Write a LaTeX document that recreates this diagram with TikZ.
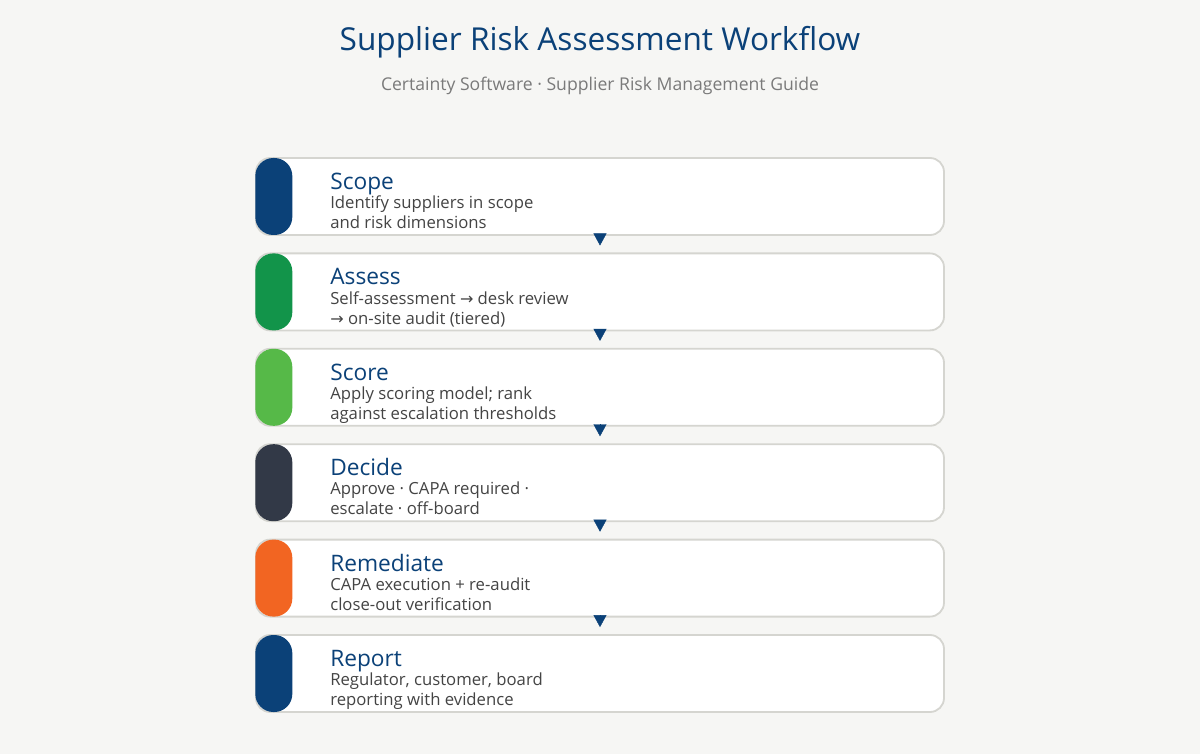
\documentclass[tikz,border=0pt]{standalone}
\usepackage{fontspec}
\setmainfont{Open Sans}
\newfontfamily\symfont{DejaVu Sans}
\usetikzlibrary{arrows.meta}

\definecolor{pagebg}{HTML}{F6F6F4}
\definecolor{navy}{HTML}{0B4178}
\definecolor{leafgreen}{HTML}{12944A}
\definecolor{limegreen}{HTML}{56B948}
\definecolor{slate}{HTML}{323947}
\definecolor{tangerine}{HTML}{F26522}
\definecolor{edgegray}{HTML}{D5D5D0}
\definecolor{bodytext}{HTML}{444444}
\definecolor{subgray}{HTML}{7A7A7A}

\newcommand{\rarr}{{\symfont\fontsize{16}{20}\selectfont →}}

\tikzset{
    stepbox/.style={draw=edgegray, line width=1.8pt, fill=white, rounded corners=14pt,
        minimum width=688pt, minimum height=77pt, inner sep=0pt},
    pill/.style={rounded corners=18pt, minimum width=37pt, minimum height=77pt,
        inner sep=0pt, anchor=west},
    steptitle/.style={anchor=base west, inner sep=0pt, text=navy,
        font=\fontsize{22.7}{26}\selectfont},
    stepdesc/.style={anchor=base west, inner sep=0pt, text=bodytext, align=left,
        font=\fontsize{16.7}{20}\selectfont}
}

\begin{document}
\begin{tikzpicture}[x=1pt, y=-1pt]
    \fill[pagebg] (0,0) rectangle (1200,754);
    \useasboundingbox (0,0) rectangle (1200,754);

    \node[anchor=base, inner sep=0pt, text=navy, font=\fontsize{31.6}{38}\selectfont] (title) at (600,50.5) {Supplier Risk Assessment Workflow};
    \node[anchor=base, inner sep=0pt, text=subgray, font=\fontsize{17.6}{21}\selectfont] (subtitle) at (600,90.5) {Certainty Software · Supplier Risk Management Guide};

    \begin{scope}[every node/.style={stepbox}]
        \node (scope) at (600,196.5) {};
        \node (assess) at (600,291.9) {};
        \node (score) at (600,387.3) {};
        \node (decide) at (600,482.7) {};
        \node (remediate) at (600,578.1) {};
        \node (report) at (600,673.5) {};
    \end{scope}

    \begin{scope}[every node/.style={pill}]
        \node[fill=navy] (scopepill) at (scope.west) {};
        \node[fill=leafgreen] (assesspill) at (assess.west) {};
        \node[fill=limegreen] (scorepill) at (score.west) {};
        \node[fill=slate] (decidepill) at (decide.west) {};
        \node[fill=tangerine] (remediatepill) at (remediate.west) {};
        \node[fill=navy] (reportpill) at (report.west) {};
    \end{scope}

    % titles and descriptions (desc is anchored on its last line)
    \foreach \s/\t/\d in {scope/Scope/{Identify suppliers in scope\\and risk dimensions},
            assess/Assess/{Self-assessment \rarr{} desk review\\\rarr{} on-site audit (tiered)},
            score/Score/{Apply scoring model; rank\\against escalation thresholds},
            decide/Decide/{Approve · CAPA required ·\\escalate · off-board},
            remediate/Remediate/{CAPA execution + re-audit\\close-out verification},
            report/Report/{Regulator, customer, board\\reporting with evidence}} {
        \node[steptitle] (\s title) at ([shift={(75,32.5)}]\s.north west) {\t};
        \node[stepdesc] (\s desc) at ([shift={(75,71.5)}]\s.north west) {\d};
    }

    \begin{scope}[every path/.style={draw=navy, line width=0.4pt,
            -{Triangle[width=13pt, length=12pt]}, shorten <=-2pt, shorten >=7pt}]
        \path (scope) edge (assess);
        \path (assess) edge (score);
        \path (score) edge (decide);
        \path (decide) edge (remediate);
        \path (remediate) edge (report);
    \end{scope}
\end{tikzpicture}
\end{document}
